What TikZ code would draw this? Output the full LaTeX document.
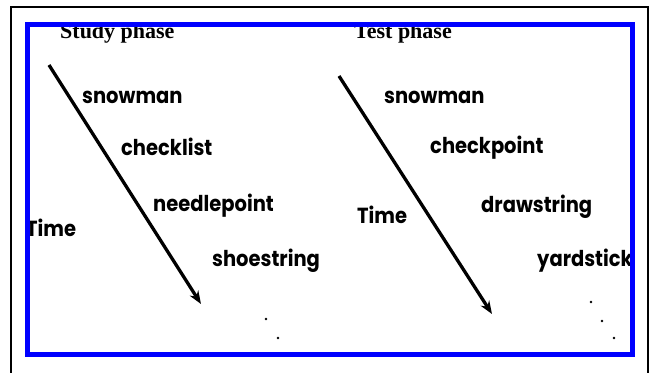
\documentclass[tikz,border=0pt]{standalone}
\usepackage{graphicx}
\usepackage{fontspec}
\setmainfont{Liberation Serif}
\newfontfamily\gothic{Poppins}
\usetikzlibrary{arrows.meta}
\definecolor{frameblue}{RGB}{0,0,255}
\newcommand{\tallword}[1]{\scalebox{1}[1.12]{#1}}
\tikzset{
  title/.style={inner sep=0pt, anchor=base west, font=\fontsize{22}{22}\selectfont\bfseries},
  word/.style={inner sep=0pt, anchor=base west, font=\gothic\bfseries\fontsize{19.5}{19.5}\selectfont},
  timearrow/.style={line width=3.3pt, -{Stealth[length=13pt,width=10pt]}},
  dot/.style={circle, fill=black, inner sep=0pt, minimum size=2.8pt},
}
\begin{document}
\begin{tikzpicture}[x=1pt,y=-1pt]
\useasboundingbox (0,0) rectangle (650,372);
\draw[line width=1.6pt] (11,380) -- (11,7) -- (648,7) -- (648,380);
% texts
\node[title] (study) at (60,38.5) {Study phase};
\node[title] (test) at (354,38.5) {Test phase};
\node[word] (w1) at (82,103) {\tallword{snowman}};
\node[word] (w2) at (121,155) {\tallword{checklist}};
\node[word] (w3) at (153,211) {\tallword{needlepoint}};
\node[word] (w4) at (212,266) {\tallword{shoestring}};
\node[word] (timeL) at (26,236) {\tallword{Time}};
\node[word] (v1) at (384,103) {\tallword{snowman}};
\node[word] (v2) at (430,153) {\tallword{checkpoint}};
\node[word] (v3) at (481,212) {\tallword{drawstring}};
\node[word] (v4) at (537,266) {\tallword{yardstick}};
\node[word] (timeR) at (357,223) {\tallword{Time}};
% arrows
\coordinate (aS) at (49,65);
\coordinate (aE) at (201,304);
\coordinate (bS) at (339,76);
\coordinate (bE) at (492,314);
\draw[timearrow] (aS) -- (aE);
\draw[timearrow] (bS) -- (bE);
% dots
\node[dot] (d1) at (266,319) {};
\node[dot] (d2) at (278,338) {};
\node[dot] (e1) at (591,302) {};
\node[dot] (e2) at (602,321) {};
\node[dot] (e3) at (614,338) {};
% blue frame
\draw[frameblue, line width=5pt] (27.5,24.5) rectangle (632.5,354);
\end{tikzpicture}
\end{document}
